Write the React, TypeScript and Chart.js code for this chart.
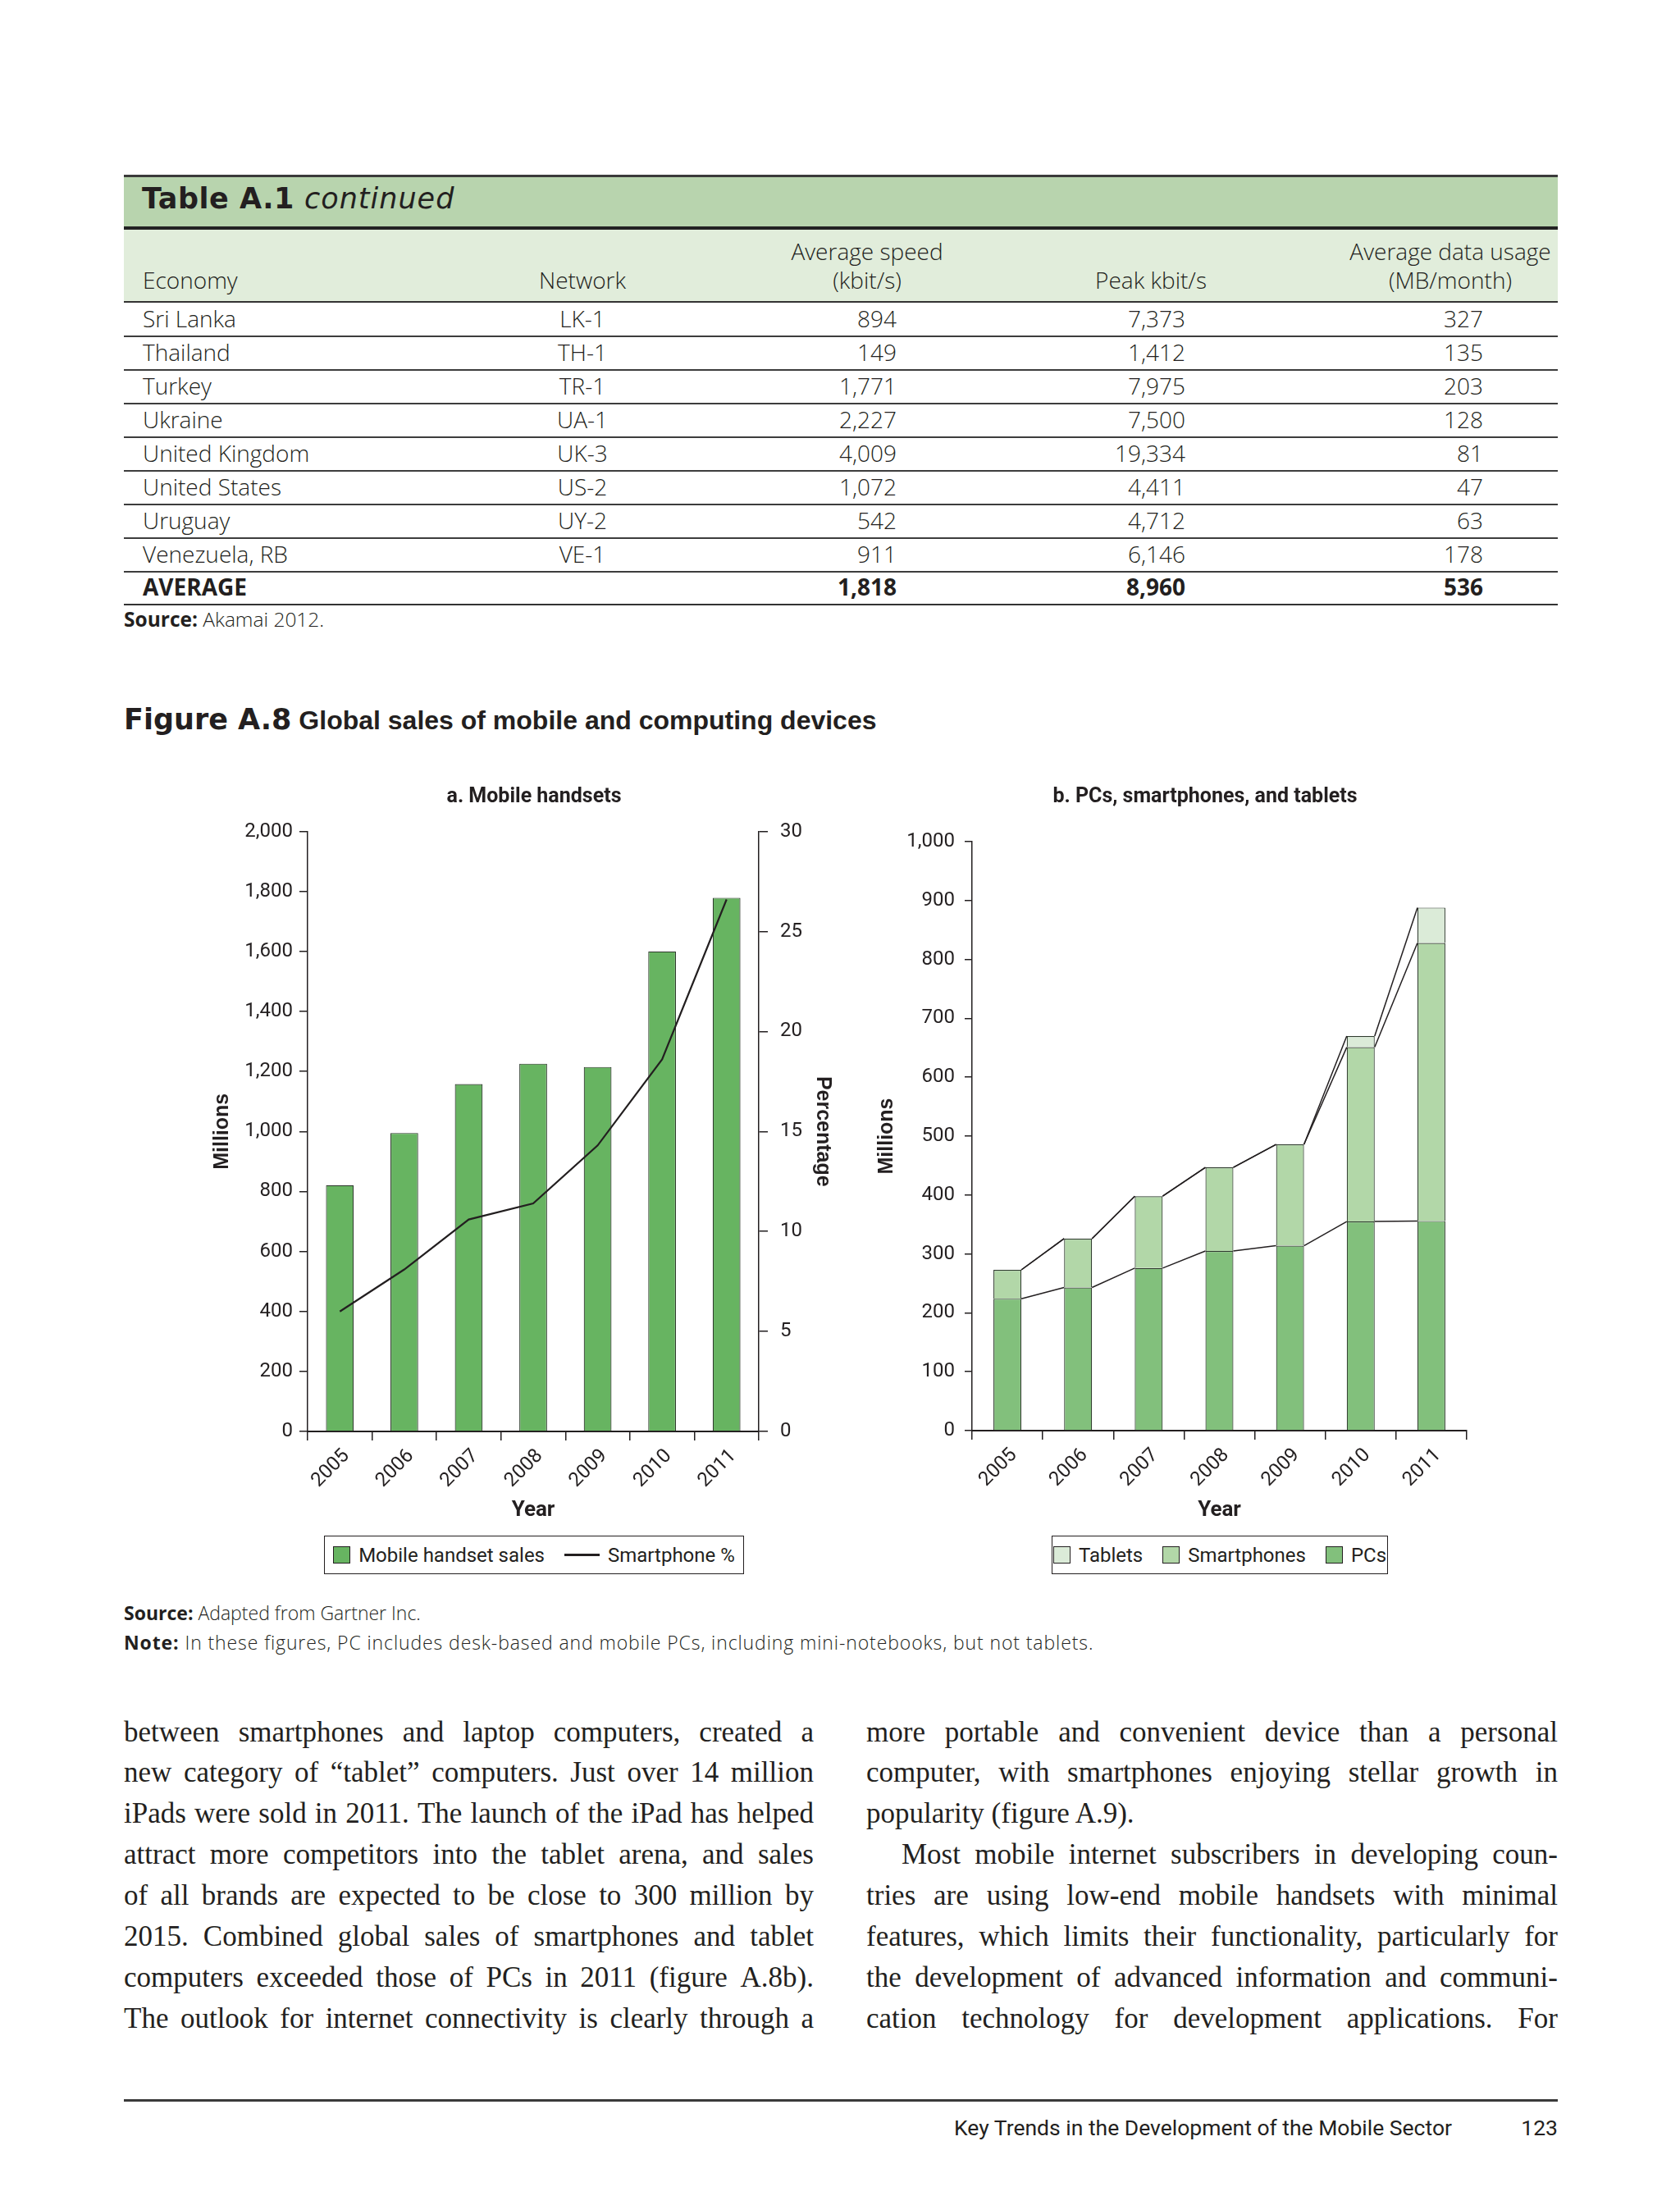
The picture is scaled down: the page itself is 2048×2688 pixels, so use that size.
import React, { useEffect, useRef } from 'react';
import { Chart, registerables } from 'chart.js';

Chart.register(...registerables);

// ---------- data ----------
const years = ['2005', '2006', '2007', '2008', '2009', '2010', '2011'];
const handsetSales = [821, 995, 1158, 1226, 1215, 1600, 1779];
const smartphoneShare = [6.0, 8.1, 10.6, 11.4, 14.3, 18.6, 26.6];
const pcSales = [224, 243, 276, 305, 314, 355, 356];
const smartphoneSales = [49, 83, 122, 142, 172, 296, 472];
const tabletSales = [0, 0, 0, 0, 0, 19, 60];

const economies = ['Sri Lanka', 'Thailand', 'Turkey', 'Ukraine', 'United Kingdom', 'United States', 'Uruguay', 'Venezuela, RB'];
const networks = ['LK-1', 'TH-1', 'TR-1', 'UA-1', 'UK-3', 'US-2', 'UY-2', 'VE-1'];
const avgSpeed = ['894', '149', '1,771', '2,227', '4,009', '1,072', '542', '911'];
const peakSpeed = ['7,373', '1,412', '7,975', '7,500', '19,334', '4,411', '4,712', '6,146'];
const dataUsage = ['327', '135', '203', '128', '81', '47', '63', '178'];
const averageRow = ['AVERAGE', '', '1,818', '8,960', '536'];

const leftColumn = [
  'between smartphones and laptop computers, created a',
  'new category of \u201ctablet\u201d computers. Just over 14 million',
  'iPads were sold in 2011. The launch of the iPad has helped',
  'attract more competitors into the tablet arena, and sales',
  'of all brands are expected to be close to 300 million by',
  '2015. Combined global sales of smartphones and tablet',
  'computers exceeded those of PCs in 2011 (figure A.8b).',
  'The outlook for internet connectivity is clearly through a',
];
const rightColumn = [
  'more portable and convenient device than a personal',
  'computer, with smartphones enjoying stellar growth in',
  'popularity (figure A.9).',
  'Most mobile internet subscribers in developing coun-',
  'tries are using low-end mobile handsets with minimal',
  'features, which limits their functionality, particularly for',
  'the development of advanced information and communi-',
  'cation technology for development applications. For',
];

// ---------- styles ----------
const INK = '#231f20';
const NARROW = 'Roboto, "Liberation Sans", sans-serif';
const SANS = '"Open Sans", "Noto Sans", "Liberation Sans", sans-serif';
const BOLDSANS = '"Liberation Sans", Arial, sans-serif';
const WIDE = '"DejaVu Sans", Verdana, sans-serif';
const SERIF = '"Liberation Serif", "DejaVu Serif", serif';

const tickFont = { family: NARROW, size: 24, weight: 'normal' as const };
const chartTitleFont = { family: NARROW, size: 25, weight: 'bold' as const };
const yearFont = { family: NARROW, size: 26, weight: 'bold' as const };
const axisTitleFont = { family: BOLDSANS, size: 25, weight: 'bold' as const };

function Txt(props: any) {
  const { x, y, size, align = 'left', family = SANS, weight = 400, italic = false, color = INK, ls, children } = props;
  const style: any = {
    position: 'absolute',
    top: y - size * 0.64,
    fontSize: size,
    lineHeight: `${size * 1.2}px`,
    fontFamily: family,
    fontWeight: weight,
    fontStyle: italic ? 'italic' : 'normal',
    color,
    whiteSpace: 'nowrap',
    letterSpacing: ls,
  };
  if (align === 'left') style.left = x;
  else if (align === 'right') { style.left = x - 1500; style.width = 1500; style.textAlign = 'right'; }
  else { style.left = x - 1000; style.width = 2000; style.textAlign = 'center'; }
  return <div style={style}>{children}</div>;
}

function HLine({ x1, x2, y, h, color = '#333' }: any) {
  return <div style={{ position: 'absolute', left: x1, top: y - h / 2, width: x2 - x1, height: h, background: color }} />;
}

const seriesLinesPlugin = {
  id: 'seriesLines',
  afterDatasetsDraw(chart: any) {
    const ctx = chart.ctx;
    ctx.save();
    ctx.strokeStyle = INK;
    ctx.lineWidth = 1.5;
    chart.data.datasets.forEach((_ds: any, di: number) => {
      const meta = chart.getDatasetMeta(di);
      for (let i = 0; i < meta.data.length - 1; i++) {
        const a: any = meta.data[i];
        const b: any = meta.data[i + 1];
        ctx.beginPath();
        ctx.moveTo(a.x + a.width / 2, a.y);
        ctx.lineTo(b.x - b.width / 2, b.y);
        ctx.stroke();
      }
    });
    ctx.restore();
  },
};

function xScale(height: number, stacked: boolean) {
  return {
    type: 'category', offset: true, stacked,
    grid: { offset: true, drawOnChartArea: false, drawTicks: true, tickLength: 11, color: INK, lineWidth: 1.5 },
    border: { display: true, color: INK, width: 2 },
    ticks: { minRotation: 45, maxRotation: 45, autoSkip: false, padding: 5, labelOffset: 8, font: tickFont, color: INK },
    title: { display: true, text: 'Year', color: INK, font: yearFont, padding: { top: 0, bottom: 8.4 } },
    afterFit: (s: any) => { s.height = height; },
  };
}

function ChartA() {
  const ref = useRef<HTMLCanvasElement>(null);
  useEffect(() => {
    const chart = new Chart(ref.current as HTMLCanvasElement, {
      data: {
        labels: years,
        datasets: [
          {
            type: 'line', label: 'Smartphone %', data: smartphoneShare, yAxisID: 'y1',
            borderColor: INK, borderWidth: 2.2, pointRadius: 0, tension: 0, order: 1,
          } as any,
          {
            type: 'bar', label: 'Mobile handset sales', data: handsetSales, yAxisID: 'y',
            backgroundColor: '#67b461', borderColor: '#2f3b2e', borderWidth: 1.2,
            barPercentage: 0.43, categoryPercentage: 1, order: 2,
          } as any,
        ],
      },
      options: {
        responsive: false, animation: false, devicePixelRatio: 1, locale: 'en-US',
        layout: { padding: 0 },
        plugins: {
          legend: { display: false },
          tooltip: { enabled: false },
          title: {
            display: true, text: 'a. Mobile handsets', color: INK,
            font: chartTitleFont, padding: { top: 17, bottom: 26.6 },
          },
        },
        scales: {
          x: xScale(120, false),
          y: {
            type: 'linear', position: 'left', min: 0, max: 2000,
            grid: { drawOnChartArea: false, drawTicks: true, tickLength: 10, color: INK, lineWidth: 1.5 },
            border: { display: true, color: INK, width: 1.5 },
            ticks: { stepSize: 200, padding: 8, font: tickFont, color: INK },
            title: { display: true, text: 'Millions', color: INK, font: axisTitleFont, padding: { top: 26, bottom: 0 } },
            afterFit: (s: any) => { s.width = 145; },
          },
          y1: {
            type: 'linear', position: 'right', min: 0, max: 30,
            grid: { drawOnChartArea: false, drawTicks: true, tickLength: 11, color: INK, lineWidth: 1.5 },
            border: { display: true, color: INK, width: 1.5 },
            ticks: { stepSize: 5, padding: 15, font: tickFont, color: INK },
            title: { display: true, text: 'Percentage', color: INK, font: axisTitleFont, padding: { top: 54, bottom: 0 } },
            afterFit: (s: any) => { s.width = 147; },
          },
        },
      } as any,
    });
    return () => chart.destroy();
  }, []);
  return <canvas ref={ref} width={842} height={925} style={{ position: 'absolute', left: 230, top: 940, width: 842, height: 925 }} />;
}

function ChartB() {
  const ref = useRef<HTMLCanvasElement>(null);
  useEffect(() => {
    const common = { borderColor: '#2f3b2e', borderWidth: 1.2, barPercentage: 0.395, categoryPercentage: 1 };
    const chart = new Chart(ref.current as HTMLCanvasElement, {
      type: 'bar',
      data: {
        labels: years,
        datasets: [
          { label: 'PCs', data: pcSales, backgroundColor: '#82c07c', ...common },
          { label: 'Smartphones', data: smartphoneSales, backgroundColor: '#b2d7a8', ...common },
          { label: 'Tablets', data: tabletSales, backgroundColor: '#dbebd8', ...common },
        ],
      },
      plugins: [seriesLinesPlugin],
      options: {
        responsive: false, animation: false, devicePixelRatio: 1, locale: 'en-US',
        layout: { padding: 0 },
        plugins: {
          legend: { display: false },
          tooltip: { enabled: false },
          title: {
            display: true, text: 'b. PCs, smartphones, and tablets', color: INK,
            font: chartTitleFont, padding: { top: 17, bottom: 39 },
          },
        },
        scales: {
          x: xScale(121, true),
          y: {
            type: 'linear', position: 'left', min: 0, max: 1000, stacked: true,
            grid: { drawOnChartArea: false, drawTicks: true, tickLength: 9, color: INK, lineWidth: 1.5 },
            border: { display: true, color: INK, width: 1.5 },
            ticks: { stepSize: 100, padding: 12, font: tickFont, color: INK },
            title: { display: true, text: 'Millions', color: INK, font: axisTitleFont, padding: { top: 26, bottom: 0 } },
            afterFit: (s: any) => { s.width = 145; },
          },
          pad: {
            type: 'linear', position: 'right', display: true,
            grid: { display: false }, border: { display: false }, ticks: { display: false },
            afterFit: (s: any) => { s.width = 110; },
          },
        },
      } as any,
    });
    return () => chart.destroy();
  }, []);
  return <canvas ref={ref} width={858} height={925} style={{ position: 'absolute', left: 1040, top: 940, width: 858, height: 925 }} />;
}

function Swatch({ color }: any) {
  return <div style={{ width: 19, height: 19, background: color, border: `1.5px solid ${INK}`, flex: 'none' }} />;
}

function Legend({ left, width, items }: any) {
  return (
    <div style={{
      position: 'absolute', left, top: 1872, width, height: 47, boxSizing: 'border-box',
      border: `1.5px solid ${INK}`, display: 'flex', alignItems: 'center', justifyContent: 'center',
      gap: 24, fontFamily: NARROW, fontSize: 24, color: INK, whiteSpace: 'nowrap',
    }}>
      {items.map((it: any, i: number) => (
        <div key={i} style={{ display: 'flex', alignItems: 'center', gap: 10 }}>
          {it.line ? <div style={{ width: 43, height: 2.2, background: INK }} /> : <Swatch color={it.color} />}
          <span>{it.label}</span>
        </div>
      ))}
    </div>
  );
}

function JLine({ x, y, w, text, justify, indent = 0 }: any) {
  const size = 35;
  const base: any = {
    position: 'absolute', left: x + indent, top: y - size * 0.64, width: w - indent,
    fontFamily: SERIF, fontSize: size, lineHeight: `${size * 1.2}px`, color: INK, whiteSpace: 'nowrap',
  };
  if (!justify) return <div style={base}>{text}</div>;
  const words = text.split(' ');
  return (
    <div style={{ ...base, display: 'flex', justifyContent: 'space-between' }}>
      {words.map((wd: string, i: number) => <span key={i}>{wd}</span>)}
    </div>
  );
}

export default function App() {
  const rowTop = 369;
  const rowH = 41;
  const colEconomy = 174;
  const colNetwork = 710;
  const colAvg = 1093;
  const colPeak = 1445;
  const colUsage = 1808;
  const cell = 28;
  return (
    <div style={{ position: 'absolute', left: 0, top: 0, width: 2048, height: 2688, background: '#fff', overflow: 'hidden', color: INK }}>
      {/* ---------- Table ---------- */}
      <div style={{ position: 'absolute', left: 151, top: 214, width: 1748, height: 64, background: '#b8d4ae' }} />
      <div style={{ position: 'absolute', left: 151, top: 280, width: 1748, height: 88, background: '#e1eddb' }} />
      <HLine x1={151} x2={1899} y={214} h={3} color="#3a3a3a" />
      <HLine x1={151} x2={1899} y={278} h={4} color="#222" />
      <HLine x1={151} x2={1899} y={368} h={2} color="#333" />
      <div style={{ position: 'absolute', left: 173, top: 243 - 35 * 0.64, fontSize: 35, lineHeight: `${35 * 1.2}px`, whiteSpace: 'nowrap', color: INK }}>
        <span style={{ fontFamily: WIDE, fontWeight: 700, letterSpacing: 0.5 }}>Table A.1</span>
        <span style={{ fontFamily: WIDE, fontStyle: 'italic', letterSpacing: 1 }}> continued</span>
      </div>
      <Txt x={1057} y={308} size={cell} align="center" weight={300}>Average speed</Txt>
      <Txt x={1768} y={308} size={cell} align="center" weight={300}>Average data usage</Txt>
      <Txt x={colEconomy} y={343} size={cell} weight={300}>Economy</Txt>
      <Txt x={colNetwork} y={343} size={cell} align="center" weight={300}>Network</Txt>
      <Txt x={1057} y={343} size={cell} align="center" weight={300}>(kbit/s)</Txt>
      <Txt x={1403} y={343} size={cell} align="center" weight={300}>Peak kbit/s</Txt>
      <Txt x={1768} y={343} size={cell} align="center" weight={300}>(MB/month)</Txt>
      {economies.map((e, i) => {
        const cy = rowTop + rowH * i + 20.5;
        return (
          <React.Fragment key={e}>
            <Txt x={colEconomy} y={cy} size={cell} weight={300}>{e}</Txt>
            <Txt x={colNetwork} y={cy} size={cell} align="center" weight={300}>{networks[i]}</Txt>
            <Txt x={colAvg} y={cy} size={cell} align="right" weight={300}>{avgSpeed[i]}</Txt>
            <Txt x={colPeak} y={cy} size={cell} align="right" weight={300}>{peakSpeed[i]}</Txt>
            <Txt x={colUsage} y={cy} size={cell} align="right" weight={300}>{dataUsage[i]}</Txt>
            <HLine x1={151} x2={1899} y={rowTop + rowH * (i + 1)} h={2} color="#3d3d3d" />
          </React.Fragment>
        );
      })}
      {(() => {
        const cy = rowTop + rowH * economies.length + 20;
        return (
          <>
            <Txt x={colEconomy} y={cy} size={cell} weight={700}>{averageRow[0]}</Txt>
            <Txt x={colAvg} y={cy} size={cell} align="right" weight={700}>{averageRow[2]}</Txt>
            <Txt x={colPeak} y={cy} size={cell} align="right" weight={700}>{averageRow[3]}</Txt>
            <Txt x={colUsage} y={cy} size={cell} align="right" weight={700}>{averageRow[4]}</Txt>
            <HLine x1={151} x2={1899} y={737} h={2} color="#333" />
          </>
        );
      })()}
      <div style={{ position: 'absolute', left: 151, top: 756 - 24.5 * 0.64, fontSize: 24.5, lineHeight: `${24.5 * 1.2}px`, fontFamily: SANS, whiteSpace: 'nowrap', color: INK }}>
        <span style={{ fontWeight: 700 }}>Source:</span><span style={{ fontWeight: 300 }}> Akamai 2012.</span>
      </div>

      {/* ---------- Figure ---------- */}
      <div style={{ position: 'absolute', left: 151, top: 879 - 33 * 0.64, fontSize: 33, lineHeight: `${33 * 1.2}px`, whiteSpace: 'nowrap', color: INK }}>
        <span style={{ fontFamily: WIDE, fontWeight: 700, fontSize: 35 }}>Figure A.8</span>
        <span style={{ fontFamily: BOLDSANS, fontWeight: 700, fontSize: 32 }}> Global sales of mobile and computing devices</span>
      </div>
      <ChartA />
      <ChartB />
      <Legend left={395} width={512} items={[
        { label: 'Mobile handset sales', color: '#67b461' },
        { label: 'Smartphone %', line: true },
      ]} />
      <Legend left={1282} width={410} items={[
        { label: 'Tablets', color: '#dbebd8' },
        { label: 'Smartphones', color: '#b2d7a8' },
        { label: 'PCs', color: '#82c07c' },
      ]} />
      <div style={{ position: 'absolute', left: 151, top: 1968 - 23 * 0.64, fontSize: 23, lineHeight: `${23 * 1.2}px`, fontFamily: SANS, whiteSpace: 'nowrap', color: INK }}>
        <span style={{ fontWeight: 700 }}>Source:</span><span style={{ fontWeight: 300 }}> Adapted from Gartner Inc.</span>
      </div>
      <div style={{ position: 'absolute', left: 151, top: 2004 - 23 * 0.64, fontSize: 23, lineHeight: `${23 * 1.2}px`, fontFamily: SANS, whiteSpace: 'nowrap', color: INK, letterSpacing: 0.9 }}>
        <span style={{ fontWeight: 700 }}>Note:</span><span style={{ fontWeight: 300 }}> In these figures, PC includes desk-based and mobile PCs, including mini-notebooks, but not tablets.</span>
      </div>

      {/* ---------- Body text ---------- */}
      {leftColumn.map((t, i) => (
        <JLine key={'l' + i} x={151} y={2113 + 49.85 * i} w={841} text={t} justify={true} />
      ))}
      {rightColumn.map((t, i) => (
        <JLine key={'r' + i} x={1056} y={2113 + 49.85 * i} w={843} text={t} justify={i !== 2} indent={i === 3 ? 43 : 0} />
      ))}

      {/* ---------- Footer ---------- */}
      <HLine x1={151} x2={1899} y={2560} h={3} color="#3a3a3a" />
      <Txt x={1770} y={2595} size={26.5} align="right" family={NARROW}>Key Trends in the Development of the Mobile Sector</Txt>
      <Txt x={1899} y={2595} size={26.5} align="right" family={NARROW}>123</Txt>
    </div>
  );
}
